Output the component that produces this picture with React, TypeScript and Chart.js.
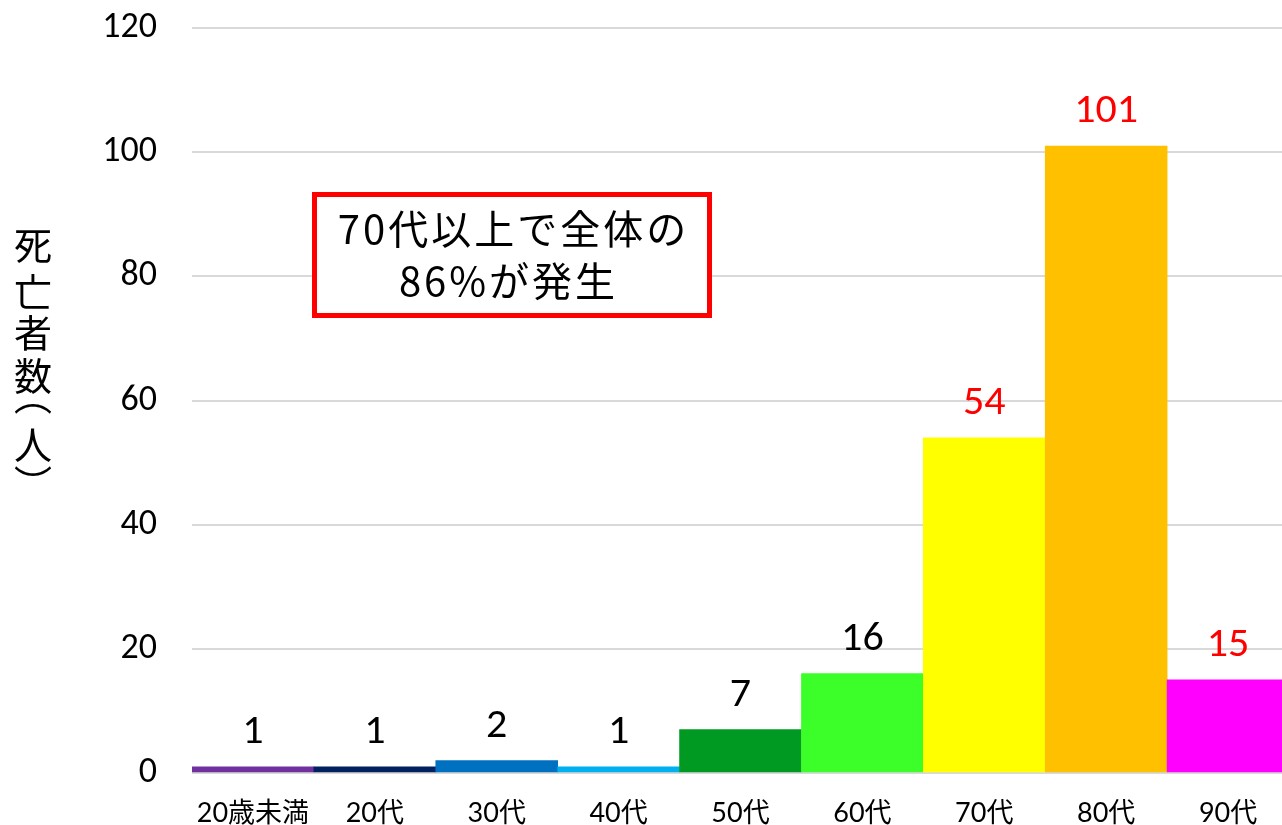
import React, { useEffect, useRef } from "react";
import { Chart, registerables } from "chart.js";

Chart.register(...registerables);

const categories = ["20歳未満", "20代", "30代", "40代", "50代", "60代", "70代", "80代", "90代"];
const deaths = [1, 1, 2, 1, 7, 16, 54, 101, 15];
const barColors = ["#7030A0", "#002060", "#0070C0", "#00B0F0", "#009A22", "#3CFF2A", "#FFFF00", "#FFC000", "#FF00FF"];
const labelColors = ["#000000", "#000000", "#000000", "#000000", "#000000", "#000000", "#FF0000", "#FF0000", "#FF0000"];
const yTitleChars = ["死", "亡", "者", "数", "︵", "人", "︶"];
const yTitleOffsets = [245, 292, 333, 376, 396, 445, 484];
const noteLines = ["70代以上で全体の", "86%が発生"];

const NUM_FONT = "Carlito, Lato, 'Noto Sans CJK JP', sans-serif";
const CJK_FONT = "'Noto Sans CJK JP', sans-serif";

const valueLabelPlugin = {
  id: "valueLabels",
  afterDatasetsDraw(chart: any) {
    const ctx = chart.ctx;
    const meta = chart.getDatasetMeta(0);
    ctx.save();
    ctx.font = `42px ${NUM_FONT}`;
    ctx.textAlign = "center";
    ctx.textBaseline = "middle";
    meta.data.forEach((bar: any, i: number) => {
      ctx.fillStyle = labelColors[i];
      ctx.fillText(String(deaths[i]), bar.x, bar.y - 34);
    });
    ctx.restore();
  },
};

const decorPlugin = {
  id: "decor",
  afterDraw(chart: any) {
    const ctx = chart.ctx;
    ctx.save();
    // vertical y-axis title
    ctx.font = `38px ${CJK_FONT}`;
    ctx.fillStyle = "#000";
    ctx.textAlign = "center";
    ctx.textBaseline = "middle";
    yTitleChars.forEach((ch, i) => {
      ctx.fillText(ch, 33, yTitleOffsets[i]);
    });
    // annotation box
    ctx.strokeStyle = "#FF0000";
    ctx.lineWidth = 5;
    ctx.fillStyle = "#FFFFFF";
    ctx.fillRect(314.5, 194.5, 395, 121);
    ctx.strokeRect(314.5, 194.5, 395, 121);
    ctx.fillStyle = "#000";
    ctx.font = `40px ${CJK_FONT}`;
    (ctx as any).letterSpacing = "3px";
    ctx.fillText(noteLines[0], 512 + 1.5, 229);
    ctx.fillText(noteLines[1], 507 + 1.5, 281);
    ctx.restore();
  },
};

export default function App() {
  const canvasRef = useRef<HTMLCanvasElement | null>(null);

  useEffect(() => {
    if (!canvasRef.current) return;
    const chart = new Chart(canvasRef.current, {
      type: "bar",
      data: {
        labels: categories,
        datasets: [
          {
            data: deaths,
            backgroundColor: barColors,
            borderWidth: 0,
            barPercentage: 1,
            categoryPercentage: 1,
          },
        ],
      },
      options: {
        animation: false,
        responsive: false,
        maintainAspectRatio: false,
        layout: { padding: { top: 28, left: 0, right: 0, bottom: 0 } },
        plugins: {
          legend: { display: false },
          tooltip: { enabled: false },
          title: { display: false },
        },
        scales: {
          x: {
            grid: { display: false, drawTicks: false },
            border: { display: false },
            ticks: {
              color: "#000",
              padding: 24,
              font: { size: 27, family: "Lato, 'Noto Sans CJK JP', sans-serif" },
              maxRotation: 0,
              autoSkip: false,
            },
            afterFit(scale: any) {
              scale.height = 52;
            },
          },
          y: {
            min: 0,
            max: 120,
            grid: { color: "#D9D9D9", lineWidth: 2, drawTicks: true, tickLength: 35, tickColor: "rgba(0,0,0,0)" },
            border: { display: false },
            ticks: {
              stepSize: 20,
              color: "#000",
              padding: 0,
              font: { size: 36, family: NUM_FONT },
            },
            afterFit(scale: any) {
              scale.width = 192;
            },
          },
        },
      },
      plugins: [valueLabelPlugin, decorPlugin],
    });
    return () => chart.destroy();
  }, []);

  return (
    <div style={{ position: "fixed", left: 0, top: 0, width: 1282, height: 825, overflow: "hidden", background: "#fff" }}>
      <canvas ref={canvasRef} width={1289} height={825} style={{ display: "block" }} />
    </div>
  );
}
